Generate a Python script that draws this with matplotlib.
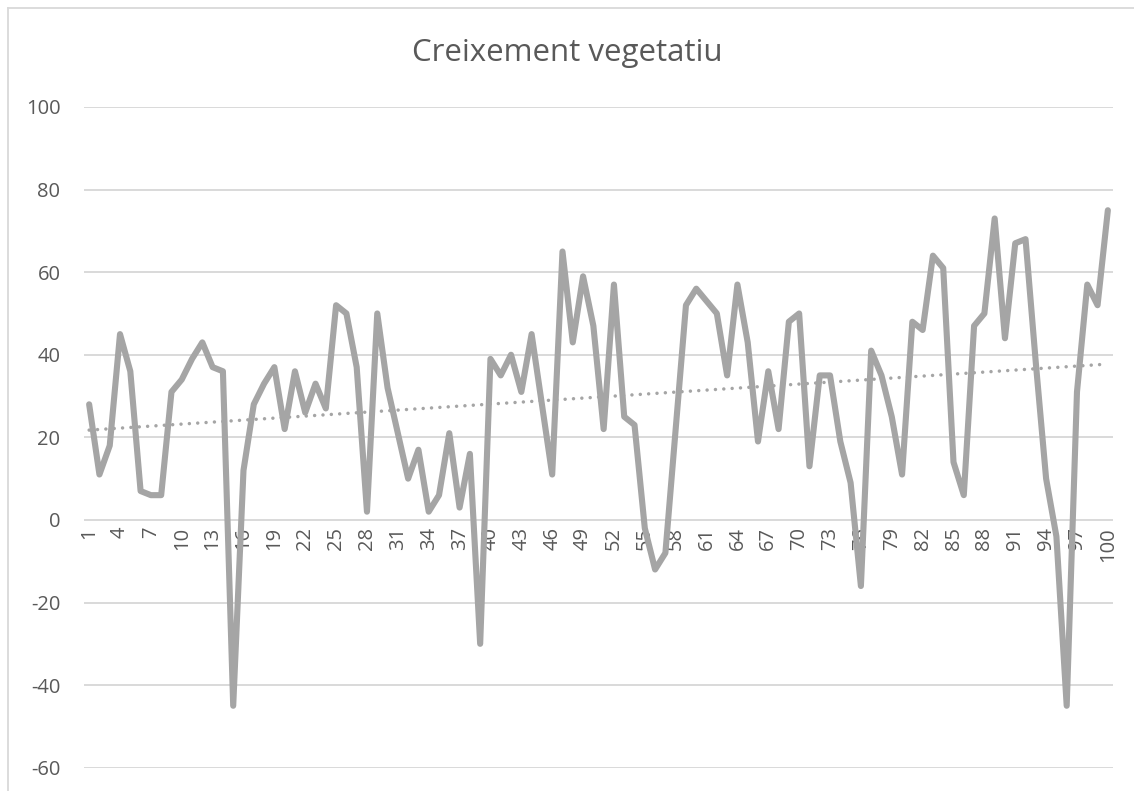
import numpy as np
import matplotlib.pyplot as plt
from matplotlib.lines import Line2D

plt.rcParams['font.family'] = ['Open Sans', 'DejaVu Sans']
plt.rcParams['axes.unicode_minus'] = False

# observations 1..100
dies = list(range(1, 101))
creixement = [
    28, 11, 18, 45, 36, 7, 6, 6, 31, 34,
    39, 43, 37, 36, -45, 12, 28, 33, 37, 22,
    36, 26, 33, 27, 52, 50, 37, 2, 50, 32,
    21, 10, 17, 2, 6, 21, 3, 16, -30, 39,
    35, 40, 31, 45, 28, 11, 65, 43, 59, 47,
    22, 57, 25, 23, -2, -12, -8, 22, 52, 56,
    53, 50, 35, 57, 43, 19, 36, 22, 48, 50,
    13, 35, 35, 19, 9, -16, 41, 35, 25, 11,
    48, 46, 64, 61, 14, 6, 47, 50, 73, 44,
    67, 68, 38, 10, -4, -45, 31, 57, 52, 75,
]
titol = "Creixement vegetatiu"
y_ticks = [-60, -40, -20, 0, 20, 40, 60, 80, 100]
x_ticks = dies[::3]

LINE_GRAY = "#A5A5A5"
GRID_GRAY = "#D9D9D9"
TEXT_GRAY = "#595959"

fig = plt.figure(figsize=(11.34, 7.91), dpi=100)
W, H = 1134, 791
ax = fig.add_axes([84 / W, (H - 767.7) / H, (1113 - 84) / W, (767.7 - 107) / H])

ax.plot(dies, creixement, color=LINE_GRAY, lw=4.4,
        solid_joinstyle="round", solid_capstyle="round", zorder=3)

# linear trend line
coef = np.polyfit(dies, creixement, 1)
x_arr = np.array(dies)
ax.plot(x_arr, np.polyval(coef, x_arr), color=LINE_GRAY, lw=2.5,
        linestyle=(0, (0.01, 2.4)), dash_capstyle="round", zorder=3)

ax.set_xlim(0.5, 100.5)
ax.set_ylim(-60, 100)
ax.set_yticks(y_ticks)
ax.set_xticks(x_ticks)
ax.set_xticklabels([str(d) for d in x_ticks])
ax.set_axisbelow(True)
ax.grid(axis="y", color=GRID_GRAY, lw=1.4)
ax.tick_params(axis="y", length=0, pad=17, labelsize=14.5, labelcolor=TEXT_GRAY)
ax.tick_params(axis="x", length=0, pad=5, labelsize=14.5, labelcolor=TEXT_GRAY,
               labelrotation=90)

for side in ("left", "right", "top"):
    ax.spines[side].set_visible(False)
ax.spines["bottom"].set_position(("data", 0))
ax.spines["bottom"].set_visible(False)

fig.text(0.5, (H - 53) / H, titol, ha="center", va="center",
         fontsize=22.5, color=TEXT_GRAY)

# chart frame
fig.add_artist(Line2D([8 / W, 8 / W], [0, (H - 8) / H], color=GRID_GRAY, lw=1.3))
fig.add_artist(Line2D([8 / W, 1], [(H - 8) / H, (H - 8) / H], color=GRID_GRAY, lw=1.3))

fig.savefig("out.png", dpi=100)
